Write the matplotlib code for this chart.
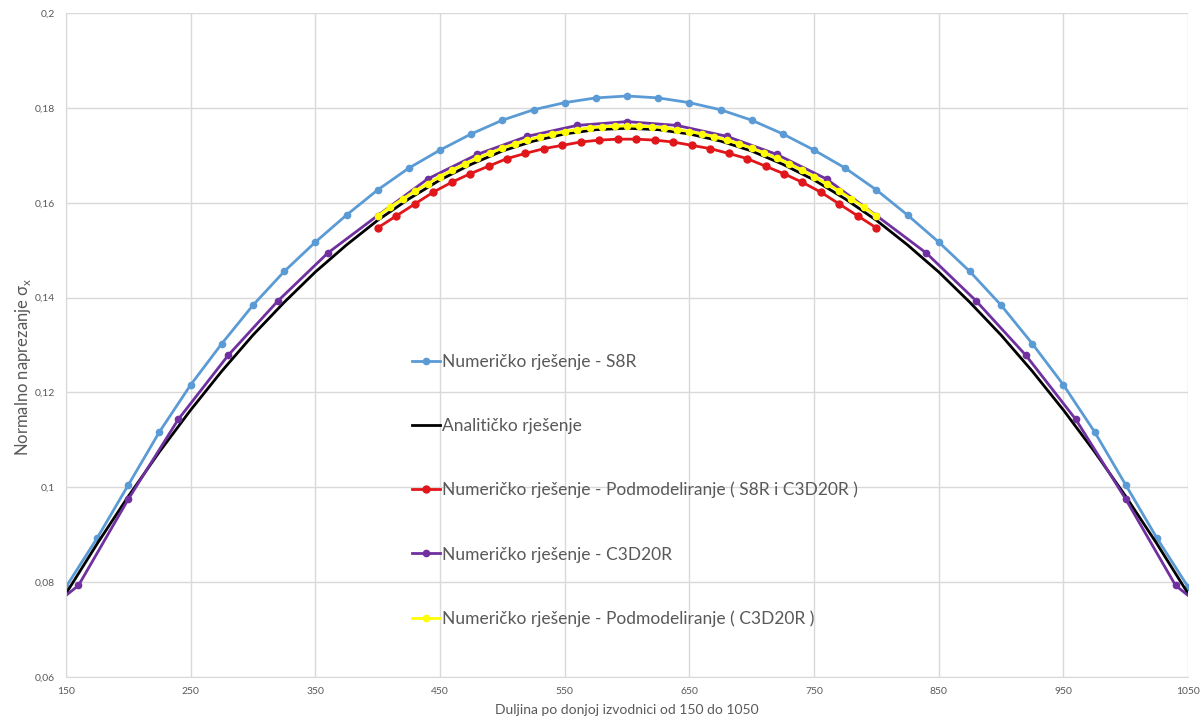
"""
Normal stress along the bottom generatrix: numerical vs analytical solutions
"""

import matplotlib
matplotlib.use("Agg")
import matplotlib.pyplot as plt
from matplotlib.ticker import FuncFormatter, MultipleLocator
from matplotlib import font_manager

# Numericko rjesenje - S8R (every 25)
x_s8r = [150, 175, 200, 225, 250, 275, 300, 325, 350, 375, 400, 425, 450, 475, 500, 525, 550, 575,
         600, 625, 650, 675, 700, 725, 750, 775, 800, 825, 850, 875, 900, 925, 950, 975, 1000, 1025, 1050]
y_s8r = [0.0790, 0.0893, 0.1005, 0.1117, 0.1216, 0.1303, 0.1384, 0.1455, 0.1517, 0.1574, 0.1627, 0.1673,
         0.1711, 0.1745, 0.1774, 0.1796, 0.1811, 0.1821, 0.1825, 0.1821, 0.1811, 0.1796, 0.1774, 0.1745,
         0.1711, 0.1673, 0.1627, 0.1574, 0.1517, 0.1455, 0.1384, 0.1303, 0.1216, 0.1117, 0.1005, 0.0893, 0.0790]

# Analiticko rjesenje
x_anal = x_s8r
y_anal = [0.0776, 0.0881, 0.0981, 0.1075, 0.1163, 0.1245, 0.1321, 0.1390, 0.1454, 0.1511, 0.1563, 0.1608,
          0.1648, 0.1681, 0.1709, 0.1730, 0.1745, 0.1754, 0.1757, 0.1754, 0.1745, 0.1730, 0.1709, 0.1681,
          0.1648, 0.1608, 0.1563, 0.1511, 0.1454, 0.1390, 0.1321, 0.1245, 0.1163, 0.1075, 0.0981, 0.0881, 0.0776]

# Numericko rjesenje - Podmodeliranje ( S8R i C3D20R )
x_sub_s8r = [400.0, 414.8, 429.6, 444.4, 459.3, 474.1, 488.9, 503.7, 518.5, 533.3, 548.1, 563.0, 577.8, 592.6,
             607.4, 622.2, 637.0, 651.9, 666.7, 681.5, 696.3, 711.1, 725.9, 740.7, 755.6, 770.4, 785.2, 800.0]
y_sub_s8r = [0.1547, 0.1572, 0.1597, 0.1622, 0.1643, 0.1661, 0.1677, 0.1693, 0.1704, 0.1714, 0.1721, 0.1728,
             0.1732, 0.1734, 0.1734, 0.1732, 0.1728, 0.1721, 0.1714, 0.1704, 0.1693, 0.1677, 0.1661, 0.1643,
             0.1622, 0.1597, 0.1572, 0.1547]

# Numericko rjesenje - C3D20R
x_c3d = [150, 160, 200, 240, 280, 320, 360, 400, 440, 480, 520, 560, 600,
         640, 680, 720, 760, 800, 840, 880, 920, 960, 1000, 1040, 1050]
y_c3d = [0.0772, 0.0793, 0.0975, 0.1143, 0.1278, 0.1393, 0.1494, 0.1573, 0.1650, 0.1702, 0.1740, 0.1763,
         0.1771, 0.1763, 0.1740, 0.1702, 0.1650, 0.1573, 0.1494, 0.1393, 0.1278, 0.1143, 0.0975, 0.0793, 0.0772]

# Numericko rjesenje - Podmodeliranje ( C3D20R )
x_sub_c3d = [400, 410, 420, 430, 440, 450, 460, 470, 480, 490, 500, 510, 520, 530, 540, 550, 560, 570, 580, 590,
             600, 610, 620, 630, 640, 650, 660, 670, 680, 690, 700, 710, 720, 730, 740, 750, 760, 770, 780, 790, 800]
y_sub_c3d = [0.1572, 0.1591, 0.1608, 0.1625, 0.1640, 0.1655, 0.1669, 0.1682, 0.1694, 0.1705, 0.1715, 0.1724,
             0.1732, 0.1739, 0.1745, 0.1750, 0.1754, 0.1758, 0.1760, 0.1761, 0.1762, 0.1761, 0.1760, 0.1758,
             0.1754, 0.1750, 0.1745, 0.1739, 0.1732, 0.1724, 0.1715, 0.1705, 0.1694, 0.1682, 0.1669, 0.1655,
             0.1640, 0.1625, 0.1608, 0.1591, 0.1572]

labels = ["Numeričko rješenje - S8R",
          "Analitičko rješenje",
          "Numeričko rješenje - Podmodeliranje ( S8R i C3D20R )",
          "Numeričko rješenje - C3D20R",
          "Numeričko rješenje - Podmodeliranje ( C3D20R )"]

x_ticks = [150, 250, 350, 450, 550, 650, 750, 850, 950, 1050]

text_grey = "#595959"
grid_grey = "#d9d9d9"

plt.rcParams["font.family"] = ["Lato", "DejaVu Sans"]

# condensed face for the y axis title, if there is one
names = {f.name for f in font_manager.fontManager.ttflist}
narrow = "Liberation Sans Narrow" if "Liberation Sans Narrow" in names else "Lato"

fig = plt.figure(figsize=(12.02, 7.22), dpi=100)
ax = fig.add_axes([0.0549, 0.0623, 0.9335, 0.9197])

ax.plot(x_s8r, y_s8r, color="#5b9bd5", lw=2.0, marker="o", ms=4.5, label=labels[0])
ax.plot(x_anal, y_anal, color="black", lw=2.0, label=labels[1])
ax.plot(x_sub_s8r, y_sub_s8r, color="#e0161b", lw=2.0, marker="o", ms=5, label=labels[2])
ax.plot(x_c3d, y_c3d, color="#7030a0", lw=2.0, marker="o", ms=4.5,
        markevery=slice(1, -1), label=labels[3])
ax.plot(x_sub_c3d, y_sub_c3d, color="#ffff00", lw=2.0, marker="o", ms=4.5, label=labels[4])

ax.set_xlim(150, 1050)
ax.set_ylim(0.06, 0.2)
ax.set_xticks(x_ticks)
ax.yaxis.set_major_locator(MultipleLocator(0.02))
ax.yaxis.set_major_formatter(FuncFormatter(lambda v, p: f"{v:g}".replace(".", ",")))

ax.grid(True, color=grid_grey, lw=1.0)
ax.set_axisbelow(True)
for side in ["top", "right"]:
    ax.spines[side].set_visible(False)
for side in ["left", "bottom"]:
    ax.spines[side].set_color(grid_grey)
ax.tick_params(axis="y", length=0, labelsize=7.5, colors=text_grey, pad=8)
ax.tick_params(axis="x", length=0, labelsize=7.5, colors=text_grey, pad=7)

ax.set_xlabel("Duljina po donjoj izvodnici od 150 do 1050", fontsize=10, color=text_grey, labelpad=6)
ax.set_ylabel(r"Normalno naprezanje σ$_\mathregular{x}$", fontsize=12, color=text_grey,
              family=[narrow, "DejaVu Sans"])
ax.yaxis.set_label_coords(-0.029, 0.468)

leg = ax.legend(loc="upper left", bbox_to_anchor=(0.301, 0.50), frameon=False, fontsize=12.5,
                handlelength=1.6, handletextpad=0.1, labelspacing=2.77, borderpad=0)
for t in leg.get_texts():
    t.set_color(text_grey)

fig.savefig("out.png", dpi=100)
